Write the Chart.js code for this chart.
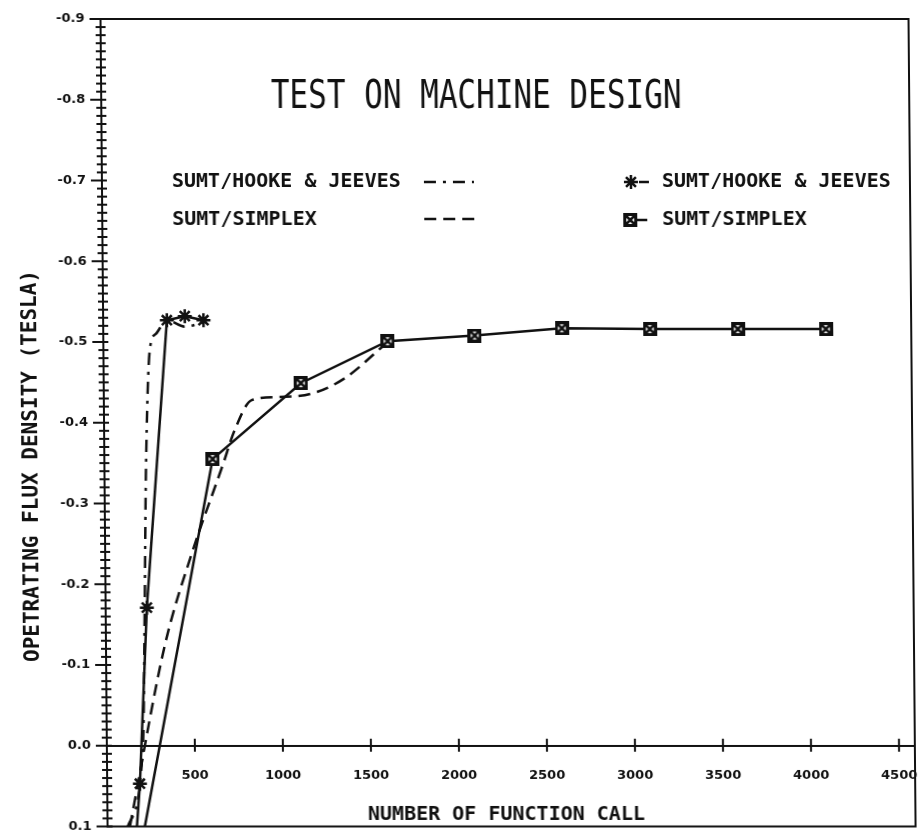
<!DOCTYPE html>
<html>
<head>
<meta charset="utf-8">
<title>Test on machine design</title>
<script src="https://cdn.jsdelivr.net/npm/chart.js@4.4.1/dist/chart.umd.min.js"></script>
<style>
  html, body { margin: 0; padding: 0; background: #fff; overflow: hidden; }
  /* the plotter sheet leans a little */
  #myChart { display: block; transform: skewX(0.5deg); transform-origin: 461.5px 418px; }
</style>
</head>
<body>
<canvas id="myChart" width="923" height="836"></canvas>
<script>
// SUMT/HOOKE & JEEVES, measured points
const hjX = [167, 186, 234, 362, 464, 570]
const hjY = [0.1, 0.047, -0.171, -0.527, -0.532, -0.527]

// SUMT/HOOKE & JEEVES, smoothed curve
const hjCurveX = [115, 205, 222, 235, 264, 299, 362, 464, 570]
const hjCurveY = [0.1, 0.0, -0.171, -0.334, -0.491, -0.51, -0.527, -0.519, -0.524]

// SUMT/SIMPLEX, measured points
const spxX = [212, 615, 1120, 1615, 2110, 2605, 3105, 3605, 4105]
const spxY = [0.1, -0.355, -0.449, -0.501, -0.508, -0.517, -0.516, -0.516, -0.516]

// SUMT/SIMPLEX, smoothed curve
const spxCurveX = [127, 335, 492, 673, 742, 840, 999, 1181, 1369, 1600]
const spxCurveY = [0.1, -0.125, -0.238, -0.348, -0.391, -0.428, -0.432, -0.436, -0.455, -0.497]

const xTicks = [500, 1000, 1500, 2000, 2500, 3000, 3500, 4000, 4500]
const yTicks = [-0.9, -0.8, -0.7, -0.6, -0.5, -0.4, -0.3, -0.2, -0.1, 0, 0.1]

const ink = '#111'
const mono = '"DejaVu Sans Mono", monospace'
const dashDot = [12, 7, 3, 7]
const dashed = [12, 7]

const pts = (xs, ys) => xs.map((x, i) => ({ x, y: ys[i] }))
const firstHidden = (xs, r) => xs.map((_, i) => i === 0 ? 0 : r)

// square with a cross in it
const box = document.createElement('canvas')
box.width = box.height = 14
const b = box.getContext('2d')
b.fillStyle = '#fff'
b.fillRect(0, 0, 14, 14)
b.strokeStyle = ink
b.lineWidth = 3
b.strokeRect(1.5, 1.5, 11, 11)
b.lineWidth = 2.5
b.beginPath()
b.moveTo(2, 2); b.lineTo(12, 12)
b.moveTo(12, 2); b.lineTo(2, 12)
b.stroke()

const line = (c, x1, y1, x2, y2) => {
    c.beginPath()
    c.moveTo(x1, y1)
    c.lineTo(x2, y2)
    c.stroke()
}

const decor = {
    id: 'decor',
    afterDraw: chart => {
        const c = chart.ctx
        const { left, right, top, bottom } = chart.chartArea
        const xs = chart.scales.x
        const ys = chart.scales.y
        c.save()
        c.strokeStyle = ink
        c.fillStyle = ink
        c.lineWidth = 2
        c.strokeRect(left, top, right - left, bottom - top)

        // beaded y axis, a mark every 0.01
        for (let i = 0; i <= 100; i++) {
            const py = ys.getPixelForValue(-0.9 + i * 0.01)
            const major = i % 10 === 0
            line(c, left - (major ? 11 : 5), py, left + 5, py)
        }
        const y0 = ys.getPixelForValue(0)
        xTicks.forEach(v => {
            const px = xs.getPixelForValue(v)
            line(c, px, y0 - 7, px, y0 + 6)
        })

        // title
        c.save()
        c.font = '31px ' + mono
        c.textAlign = 'center'
        c.translate(479, 108)
        c.scale(1, 1.28)
        c.fillText('TEST ON MACHINE DESIGN', 0, 0)
        c.restore()

        // key, line styles
        c.font = 'bold 20px ' + mono
        c.textAlign = 'left'
        c.fillText('SUMT/HOOKE & JEEVES', 174, 187)
        c.fillText('SUMT/SIMPLEX', 174, 225)
        c.lineWidth = 2.5
        c.setLineDash(dashDot)
        line(c, 426, 182, 476, 182)
        c.setLineDash(dashed)
        line(c, 426, 219, 476, 219)
        c.setLineDash([])

        // key, markers
        c.lineWidth = 2.5
        Chart.helpers.drawPoint(c, { pointStyle: 'star', radius: 7, borderWidth: 2.5, rotation: 0 }, 633, 182)
        line(c, 641, 182, 651, 182)
        c.fillText('SUMT/HOOKE & JEEVES', 664, 187)
        Chart.helpers.drawPoint(c, { pointStyle: box, radius: 6, borderWidth: 0, rotation: 0 }, 632, 220)
        line(c, 639, 220, 649, 220)
        c.fillText('SUMT/SIMPLEX', 664, 225)

        // axis titles
        c.textAlign = 'center'
        c.fillText('NUMBER OF FUNCTION CALL', 503, 820)
        c.font = 'bold 21px ' + mono
        c.translate(37, 466)
        c.rotate(-Math.PI / 2)
        c.fillText('OPETRATING FLUX DENSITY (TESLA)', 0, 0)
        c.restore()
    }
}

const tickFont = { family: '"DejaVu Sans", sans-serif', size: 13, weight: 'bold' }

const ctx = document.getElementById('myChart').getContext('2d')
const myChart = new Chart(ctx, {
    type: 'line',
    data: {
        datasets: [
        {
            label: 'SUMT/HOOKE & JEEVES',
            data: pts(hjX, hjY),
            borderColor: ink,
            borderWidth: 2.5,
            pointStyle: 'star',
            pointRadius: firstHidden(hjX, 7),
            pointBorderWidth: 2.5,
            pointBorderColor: ink,
            pointBackgroundColor: ink,
            tension: 0,
        },
        {
            label: 'SUMT/HOOKE & JEEVES curve',
            data: pts(hjCurveX, hjCurveY),
            borderColor: ink,
            borderWidth: 2.5,
            borderDash: dashDot,
            pointRadius: 0,
            cubicInterpolationMode: 'monotone',
        },
        {
            label: 'SUMT/SIMPLEX',
            data: pts(spxX, spxY),
            borderColor: ink,
            borderWidth: 2.5,
            pointStyle: box,
            pointRadius: firstHidden(spxX, 7),
            tension: 0,
        },
        {
            label: 'SUMT/SIMPLEX curve',
            data: pts(spxCurveX, spxCurveY),
            borderColor: ink,
            borderWidth: 2.5,
            borderDash: dashed,
            pointRadius: 0,
            cubicInterpolationMode: 'monotone',
        },
        ],
    },
    options: {
        responsive: false,
        animation: false,
        layout: { padding: { left: 0, top: 19, right: 11, bottom: 3 } },
        plugins: { legend: { display: false }, tooltip: { enabled: false } },
        scales: {
            x: {
                type: 'linear',
                position: { y: 0 },
                min: 0,
                max: 4590,
                afterBuildTicks: s => { s.ticks = xTicks.map(value => ({ value })) },
                afterFit: s => { s.paddingLeft = 0; s.paddingRight = 0 },
                grid: { display: false, drawTicks: false },
                border: { display: true, color: ink, width: 2 },
                ticks: { padding: 22, color: ink, font: tickFont, maxRotation: 0, autoSkip: false, callback: v => String(v) },
            },
            y: {
                type: 'linear',
                reverse: true,
                min: -0.9,
                max: 0.1,
                afterBuildTicks: s => { s.ticks = yTicks.map(value => ({ value })) },
                afterFit: s => { s.width = 104; s.paddingTop = 0; s.paddingBottom = 0 },
                grid: { display: false, drawTicks: false },
                border: { display: true, color: ink, width: 2 },
                ticks: { padding: 16, color: ink, font: tickFont, callback: v => v.toFixed(1) },
            },
        },
    },
    plugins: [decor],
})
</script>
</body>
</html>
